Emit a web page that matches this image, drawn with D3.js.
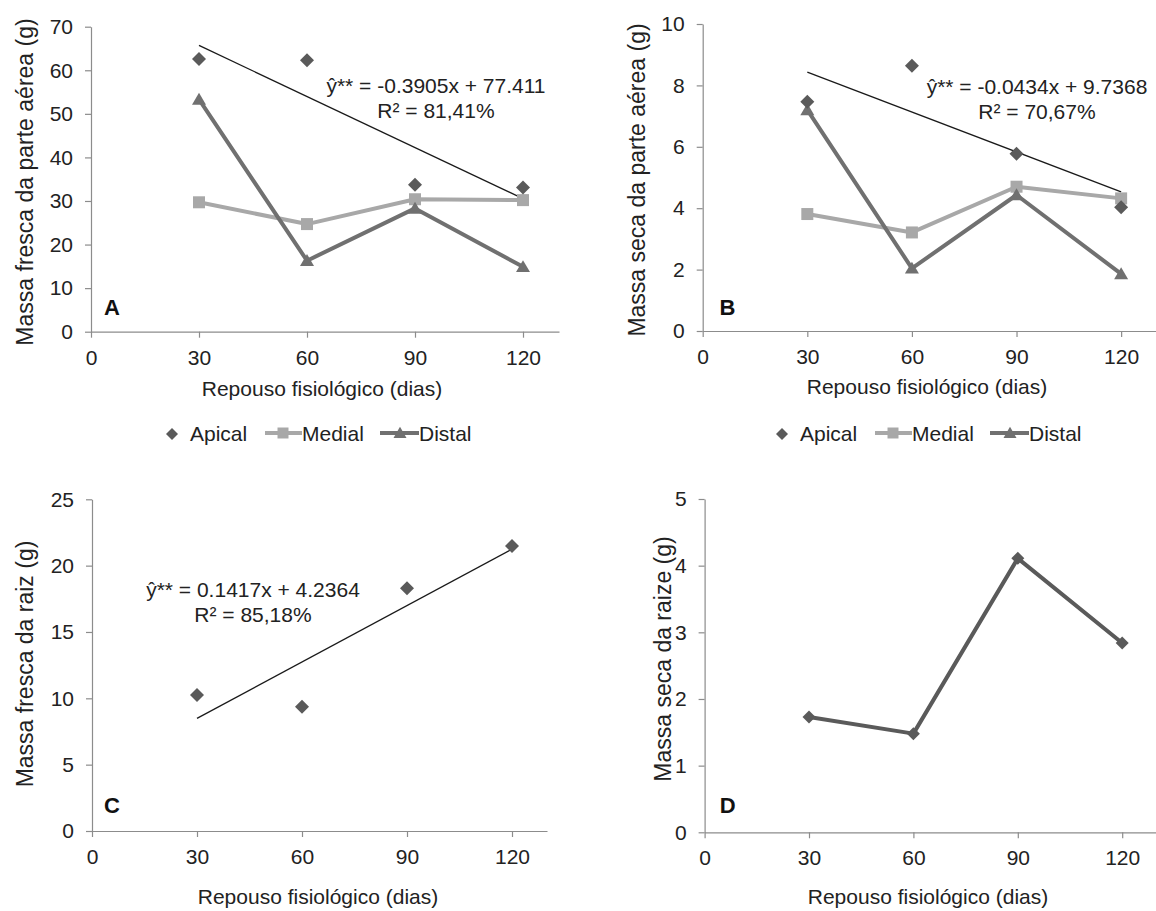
<!DOCTYPE html>
<html>
<head>
<meta charset="utf-8">
<script src="https://cdn.jsdelivr.net/npm/d3@7"></script>
<style>
  html, body { margin: 0; padding: 0; background: #ffffff; }
  svg { display: block; }
  text { font-family: "Liberation Sans", Arial, sans-serif; }
</style>
</head>
<body>
<svg id="fig" width="1156" height="911"></svg>
<script>
// Sampling days (x values) and tick sets
const days = [30, 60, 90, 120];
const xTickValues = [0, 30, 60, 90, 120];

// A: fresh shoot mass (g)
const apicalFreshShoot = [62.6, 62.3, 33.7, 33.1];
const medialFreshShoot = [29.7, 24.7, 30.4, 30.2];
const distalFreshShoot = [53.3, 16.3, 28.3, 14.9];
const ticksA = [0, 10, 20, 30, 40, 50, 60, 70];

// B: dry shoot mass (g)
const apicalDryShoot = [7.47, 8.64, 5.77, 4.03];
const medialDryShoot = [3.81, 3.21, 4.70, 4.32];
const distalDryShoot = [7.20, 2.04, 4.43, 1.86];
const ticksB = [0, 2, 4, 6, 8, 10];

// C: fresh root mass (g), apical cuttings
const apicalFreshRoot = [10.25, 9.37, 18.29, 21.48];
const ticksC = [0, 5, 10, 15, 20, 25];

// D: dry root mass (g), apical cuttings
const apicalDryRoot = [1.73, 1.48, 4.11, 2.84];
const ticksD = [0, 1, 2, 3, 4, 5];

// Linear fits for the apical series (slope, intercept) and their labels
const fitSlopes = [-0.3905, -0.0434, 0.1417];
const fitIntercepts = [77.411, 9.7368, 4.2364];
const fitEquations = ["ŷ** = -0.3905x + 77.411", "ŷ** = -0.0434x + 9.7368", "ŷ** = 0.1417x + 4.2364"];
const fitR2 = ["R² = 81,41%", "R² = 70,67%", "R² = 85,18%"];

const seriesNames = ["Apical", "Medial", "Distal"];
const xTitle = "Repouso fisiológico (dias)";

const COL_APICAL = "#5a5a5a";
const COL_MEDIAL = "#a8a8a8";
const COL_DISTAL = "#707070";
const COL_AXIS = "#8c8c8c";
const COL_TEXT = "#222222";

const svg = d3.select("#fig");

// marker shapes
const diamondType = { draw(ctx, size) { const r = Math.sqrt(size) / 2; ctx.moveTo(0, -r); ctx.lineTo(r, 0); ctx.lineTo(0, r); ctx.lineTo(-r, 0); ctx.closePath(); } };
const squareType = { draw(ctx, size) { const h = Math.sqrt(size) / 2; ctx.rect(-h, -h, 2 * h, 2 * h); } };
const triangleType = { draw(ctx, size) { const w = Math.sqrt(size) / 2; ctx.moveTo(0, -w * 0.95); ctx.lineTo(w, w * 0.75); ctx.lineTo(-w, w * 0.75); ctx.closePath(); } };

const diamondPath = d3.symbol().type(diamondType).size(14 * 14)();
const squarePath = d3.symbol().type(squareType).size(12 * 12)();
const trianglePath = d3.symbol().type(triangleType).size(14 * 14)();

function drawPanel(p) {
  const g = svg.append("g");
  const x = d3.scaleLinear().domain([0, 130]).range([p.left, p.right]);
  const y = d3.scaleLinear().domain([0, p.ymax]).range([p.bottom, p.top]);
  const fmt = d3.format("d");

  const xAxis = g.append("g").attr("transform", `translate(0,${p.bottom})`)
    .call(d3.axisBottom(x).tickValues(xTickValues).tickFormat(fmt).tickSize(6).tickSizeOuter(0).tickPadding(12));
  const yAxis = g.append("g").attr("transform", `translate(${p.left},0)`)
    .call(d3.axisLeft(y).tickValues(p.yTicks).tickFormat(fmt).tickSize(6).tickSizeOuter(0).tickPadding(12));
  [xAxis, yAxis].forEach(a => {
    a.selectAll("path.domain").attr("stroke", COL_AXIS).attr("stroke-width", 1.2);
    a.selectAll(".tick line").attr("stroke", COL_AXIS).attr("stroke-width", 1.2);
    a.selectAll(".tick text").attr("fill", COL_TEXT).style("font-size", "21px")
      .style("font-family", '"Liberation Sans", Arial, sans-serif');
  });

  // trend line for the apical series
  if (p.fit != null) {
    const k = p.fit;
    const ends = [days[0], days[days.length - 1]];
    g.append("path")
      .attr("d", d3.line().x(d => x(d)).y(d => y(fitSlopes[k] * d + fitIntercepts[k]))(ends))
      .attr("fill", "none").attr("stroke", "#1a1a1a").attr("stroke-width", 1.3);
  }

  const line = d3.line().x((d, i) => x(days[i])).y(d => y(d));

  (p.lines || []).forEach(s => {
    g.append("path").attr("d", line(s.values)).attr("fill", "none")
      .attr("stroke", s.color).attr("stroke-width", 4).attr("stroke-linejoin", "round");
  });

  (p.markers || []).forEach(s => {
    g.selectAll(null).data(s.values).enter().append("path")
      .attr("d", s.shape)
      .attr("transform", (d, i) => `translate(${x(days[i])},${y(d)})`)
      .attr("fill", s.color);
  });

  // panel letter
  g.append("text").attr("x", p.letterX).attr("y", p.letterY).attr("text-anchor", "middle")
    .attr("fill", "#111").style("font-size", "22px").style("font-weight", "bold").text(p.letter);

  // equation
  if (p.fit != null) {
    g.append("text").attr("x", p.eqX).attr("y", p.eqY).attr("text-anchor", "middle")
      .attr("fill", COL_TEXT).style("font-size", "21px").text(fitEquations[p.fit]);
    g.append("text").attr("x", p.eqX).attr("y", p.eqY + 25).attr("text-anchor", "middle")
      .attr("fill", COL_TEXT).style("font-size", "21px").text(fitR2[p.fit]);
  }

  // axis titles
  g.append("text").attr("transform", `translate(${p.yLabelX},${p.yLabelY}) rotate(-90)`)
    .attr("text-anchor", "middle").attr("fill", COL_TEXT).style("font-size", "23px").text(p.yTitle);
  g.append("text").attr("x", p.xTitleX).attr("y", p.xTitleY).attr("text-anchor", "middle")
    .attr("fill", COL_TEXT).style("font-size", "21px").text(xTitle);
}

function drawLegend(lx, ly) {
  const g = svg.append("g").attr("transform", `translate(${lx},${ly})`);
  // Apical: marker only
  g.append("path").attr("d", d3.symbol().type(diamondType).size(12 * 12)()).attr("transform", "translate(0,1)").attr("fill", COL_APICAL);
  g.append("text").attr("x", 18).attr("y", 8).attr("fill", COL_TEXT).style("font-size", "21px").text(seriesNames[0]);
  // Medial: line + square
  g.append("line").attr("x1", 93).attr("x2", 130).attr("y1", 0).attr("y2", 0).attr("stroke", COL_MEDIAL).attr("stroke-width", 4);
  g.append("path").attr("d", d3.symbol().type(squareType).size(11 * 11)()).attr("transform", "translate(111,0)").attr("fill", COL_MEDIAL);
  g.append("text").attr("x", 130).attr("y", 8).attr("fill", COL_TEXT).style("font-size", "21px").text(seriesNames[1]);
  // Distal: line + triangle
  g.append("line").attr("x1", 208).attr("x2", 247).attr("y1", 0).attr("y2", 0).attr("stroke", COL_DISTAL).attr("stroke-width", 4);
  g.append("path").attr("d", d3.symbol().type(triangleType).size(13 * 13)()).attr("transform", "translate(228,0)").attr("fill", COL_DISTAL);
  g.append("text").attr("x", 247).attr("y", 8).attr("fill", COL_TEXT).style("font-size", "21px").text(seriesNames[2]);
}

drawPanel({
  left: 91, right: 559, top: 26.7, bottom: 331.7, ymax: 70, yTicks: ticksA, fit: 0,
  lines: [{ values: medialFreshShoot, color: COL_MEDIAL }, { values: distalFreshShoot, color: COL_DISTAL }],
  markers: [{ values: medialFreshShoot, color: COL_MEDIAL, shape: squarePath },
            { values: distalFreshShoot, color: COL_DISTAL, shape: trianglePath },
            { values: apicalFreshShoot, color: COL_APICAL, shape: diamondPath }],
  letter: "A", letterX: 112, letterY: 315, eqX: 436, eqY: 93,
  yTitle: "Massa fresca da parte aérea (g)", yLabelX: 33, yLabelY: 182,
  xTitleX: 322, xTitleY: 396
});

drawPanel({
  left: 702.7, right: 1156, top: 24, bottom: 331, ymax: 10, yTicks: ticksB, fit: 1,
  lines: [{ values: medialDryShoot, color: COL_MEDIAL }, { values: distalDryShoot, color: COL_DISTAL }],
  markers: [{ values: medialDryShoot, color: COL_MEDIAL, shape: squarePath },
            { values: distalDryShoot, color: COL_DISTAL, shape: trianglePath },
            { values: apicalDryShoot, color: COL_APICAL, shape: diamondPath }],
  letter: "B", letterX: 727.5, letterY: 315, eqX: 1037, eqY: 94,
  yTitle: "Massa seca da parte  aérea (g)", yLabelX: 645, yLabelY: 180,
  xTitleX: 927, xTitleY: 394
});

drawPanel({
  left: 92, right: 547, top: 499.3, bottom: 831, ymax: 25, yTicks: ticksC, fit: 2,
  markers: [{ values: apicalFreshRoot, color: COL_APICAL, shape: diamondPath }],
  letter: "C", letterX: 112, letterY: 813, eqX: 253, eqY: 597,
  yTitle: "Massa fresca da raiz (g)", yLabelX: 33, yLabelY: 664,
  xTitleX: 318, xTitleY: 904
});

drawPanel({
  left: 704.6, right: 1157, top: 499, bottom: 832.3, ymax: 5, yTicks: ticksD, fit: null,
  lines: [{ values: apicalDryRoot, color: COL_APICAL }],
  markers: [{ values: apicalDryRoot, color: COL_APICAL, shape: d3.symbol().type(diamondType).size(13 * 13)() }],
  letter: "D", letterX: 727.6, letterY: 813,
  yTitle: "Massa seca da raize (g)", yLabelX: 671, yLabelY: 659,
  xTitleX: 928, xTitleY: 904
});

drawLegend(172, 433);
drawLegend(782, 433);
</script>
</body>
</html>
